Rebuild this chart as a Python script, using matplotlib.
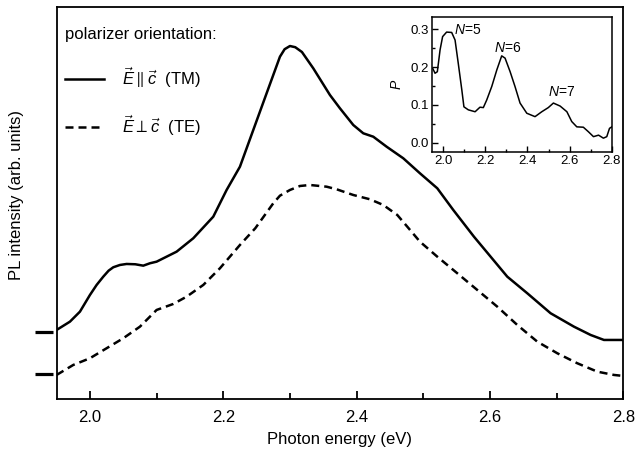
import matplotlib
matplotlib.use("Agg")
import matplotlib.pyplot as plt
import matplotlib.transforms as mtransforms
from matplotlib.ticker import MultipleLocator

plt.rcParams["font.family"] = ["Liberation Sans", "DejaVu Sans"]
plt.rcParams["mathtext.fontset"] = "custom"
plt.rcParams["mathtext.rm"] = "Liberation Sans"
plt.rcParams["mathtext.it"] = "Liberation Sans:italic"
plt.rcParams["mathtext.sf"] = "Liberation Sans"

# ---------------------------------------------------------------------------
# Data (main panel: intensity in arb. units, offset)
# ---------------------------------------------------------------------------
tm_energy = [1.950, 1.970, 1.985, 2.000, 2.010, 2.020, 2.028, 2.035, 2.045,
             2.055, 2.068, 2.080, 2.090, 2.100, 2.130, 2.155, 2.185, 2.205,
             2.225, 2.245, 2.265, 2.285, 2.292, 2.300, 2.308, 2.318, 2.335,
             2.360, 2.375, 2.395, 2.410, 2.425, 2.445, 2.470, 2.495, 2.521,
             2.545, 2.576, 2.601, 2.626, 2.656, 2.691, 2.726, 2.751, 2.771,
             2.800]
tm_intensity = [0.687, 0.770, 0.870, 1.037, 1.137, 1.220, 1.280, 1.314, 1.337,
                1.347, 1.344, 1.330, 1.354, 1.370, 1.470, 1.604, 1.820, 2.087,
                2.320, 2.687, 3.054, 3.420, 3.495, 3.527, 3.515, 3.467, 3.304,
                3.037, 2.904, 2.737, 2.654, 2.620, 2.520, 2.404, 2.254, 2.104,
                1.887, 1.620, 1.420, 1.220, 1.054, 0.854, 0.720, 0.637, 0.587,
                0.587]

te_energy = [1.950, 1.975, 2.000, 2.025, 2.050, 2.075, 2.100, 2.125, 2.145,
             2.170, 2.195, 2.225, 2.248, 2.275, 2.285, 2.300, 2.315, 2.330,
             2.355, 2.370, 2.395, 2.420, 2.440, 2.461, 2.476, 2.495, 2.521,
             2.551, 2.581, 2.611, 2.641, 2.671, 2.701, 2.731, 2.761, 2.786,
             2.800]
te_intensity = [0.237, 0.337, 0.404, 0.504, 0.604, 0.720, 0.887, 0.947, 1.020,
                1.137, 1.304, 1.537, 1.704, 1.954, 2.030, 2.087, 2.127, 2.137,
                2.120, 2.094, 2.037, 1.994, 1.937, 1.837, 1.720, 1.570, 1.420,
                1.254, 1.087, 0.920, 0.737, 0.570, 0.454, 0.354, 0.270, 0.237,
                0.227]

# zero levels of the two offset spectra
baselines = [0.67, 0.247]

# Inset: degree of polarization P
p_energy = [1.951, 1.962, 1.973, 1.986, 1.998, 2.017, 2.041, 2.057, 2.072,
            2.089, 2.099, 2.120, 2.152, 2.175, 2.191, 2.207, 2.231, 2.255,
            2.278, 2.294, 2.318, 2.341, 2.365, 2.397, 2.436, 2.468, 2.499,
            2.523, 2.555, 2.587, 2.610, 2.634, 2.665, 2.689, 2.713, 2.737,
            2.760, 2.776, 2.789, 2.800]
p_value = [0.197, 0.184, 0.188, 0.246, 0.281, 0.293, 0.292, 0.272, 0.211,
           0.140, 0.095, 0.087, 0.082, 0.094, 0.093, 0.113, 0.149, 0.193,
           0.230, 0.224, 0.188, 0.149, 0.105, 0.078, 0.069, 0.082, 0.093,
           0.105, 0.097, 0.082, 0.056, 0.042, 0.041, 0.029, 0.016, 0.020,
           0.012, 0.016, 0.038, 0.042]

peak_labels = ["N=5", "N=6", "N=7"]
peak_label_x = [2.117, 2.306, 2.563]
peak_label_y = [0.299, 0.250, 0.134]


def main() -> None:
    fig = plt.figure(figsize=(6.36, 4.53), dpi=100)
    ax = fig.add_axes([0.089, 0.120, 0.891, 0.8645])

    ax.plot(tm_energy, tm_intensity, color="black", lw=1.8,
            label=r"$\vec{E}\parallel\vec{c}$  (TM)")
    ax.plot(te_energy, te_intensity, color="black", lw=1.8, dashes=(3.2, 2.0),
            label=r"$\vec{E}\perp\vec{c}$  (TE)")

    ax.set_xlim(1.95, 2.8)
    ax.set_ylim(0, 3.917)
    ax.xaxis.set_major_locator(MultipleLocator(0.2))
    ax.xaxis.set_minor_locator(MultipleLocator(0.1))
    ax.xaxis.set_major_formatter(plt.FormatStrFormatter("%.1f"))
    ax.tick_params(axis="x", which="major", direction="in", length=6,
                   width=1.3, labelsize=12, pad=8)
    ax.tick_params(axis="x", which="minor", direction="in", length=4, width=1.3)
    ax.set_yticks([])
    for sp in ax.spines.values():
        sp.set_linewidth(1.3)

    # short marks left of the axis showing the zero level of each spectrum
    trans = mtransforms.blended_transform_factory(ax.transAxes, ax.transData)
    for b in baselines:
        ax.plot([-0.038, -0.007], [b, b], color="black", lw=2.3,
                transform=trans, clip_on=False, solid_capstyle="butt")

    ax.set_xlabel("Photon energy (eV)", fontsize=12, labelpad=5)
    ax.set_ylabel("PL intensity (arb. units)", fontsize=12)
    ax.yaxis.set_label_coords(-0.058, 0.52)

    leg = ax.legend(loc="upper left", bbox_to_anchor=(0.0, 0.97),
                    frameon=False, fontsize=12,
                    title="polarizer orientation:", title_fontsize=12,
                    alignment="left", handlelength=2.35, handletextpad=1.1,
                    labelspacing=1.4, borderpad=0.5, borderaxespad=0.0)
    for line in leg.get_lines():
        line.set_linewidth(1.8)

    # -----------------------------------------------------------------------
    # Inset
    # -----------------------------------------------------------------------
    axin = fig.add_axes([0.680, 0.665, 0.282, 0.2975])
    axin.plot(p_energy, p_value, color="black", lw=1.1)
    axin.set_xlim(1.95, 2.8)
    axin.set_ylim(-0.024, 0.333)
    axin.xaxis.set_major_locator(MultipleLocator(0.2))
    axin.xaxis.set_minor_locator(MultipleLocator(0.1))
    axin.yaxis.set_major_locator(MultipleLocator(0.1))
    axin.yaxis.set_minor_locator(MultipleLocator(0.05))
    axin.xaxis.set_major_formatter(plt.FormatStrFormatter("%.1f"))
    axin.yaxis.set_major_formatter(plt.FormatStrFormatter("%.1f"))
    axin.tick_params(which="major", direction="in", length=4, width=1.0,
                     labelsize=9.5, pad=2.5)
    axin.tick_params(which="minor", direction="in", length=2.5, width=1.0)
    for sp in axin.spines.values():
        sp.set_linewidth(1.1)
    axin.set_ylabel("$P$", fontsize=10)
    axin.yaxis.set_label_coords(-0.16, 0.5)

    for lab, x, y in zip(peak_labels, peak_label_x, peak_label_y):
        n, val = lab.split("=")
        axin.text(x, y, f"${n}$={val}", fontsize=10, ha="center", va="center")

    fig.savefig("out.png", dpi=100)


if __name__ == "__main__":
    main()
